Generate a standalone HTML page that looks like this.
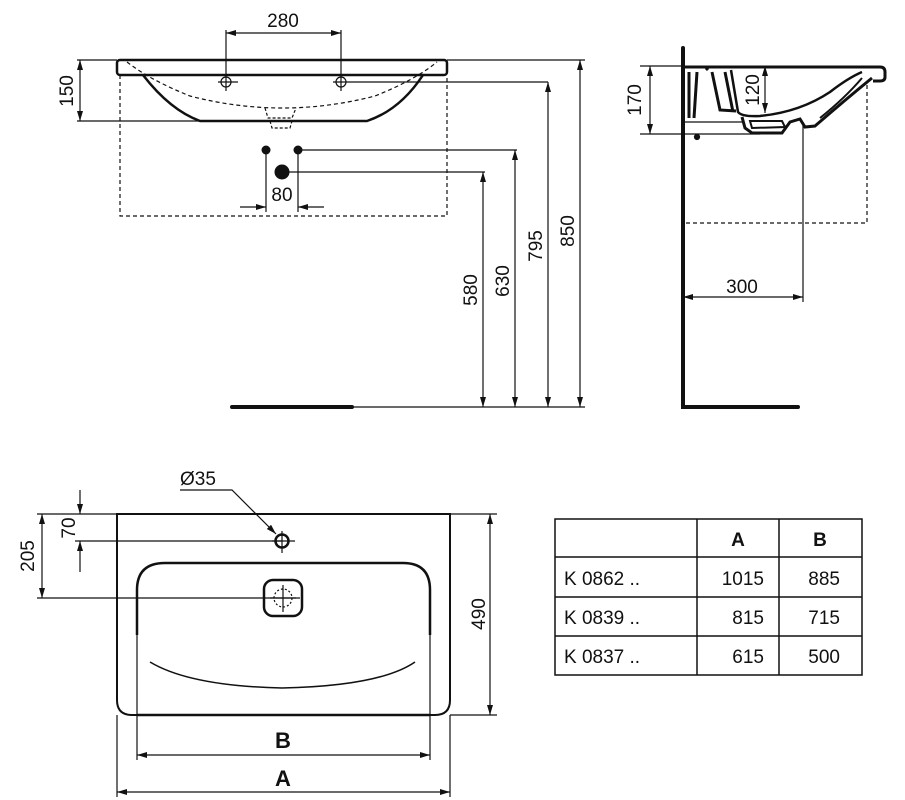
<!DOCTYPE html>
<html><head><style>body{margin:0;background:#fff}svg{display:block}text{font-family:"Liberation Sans",sans-serif;fill:#111}</style></head>
<body>
<svg width="905" height="800" viewBox="0 0 905 800" xmlns="http://www.w3.org/2000/svg">
<defs>
<marker id="a" viewBox="0 0 10 6" refX="10" refY="3" markerWidth="11" markerHeight="6" orient="auto-start-reverse" markerUnits="userSpaceOnUse"><path d="M0,0 L10,3 L0,6 z" fill="#111"/></marker>
</defs>
<g stroke="#111" fill="none" stroke-width="1.2">
<!-- FRONT VIEW -->
<rect x="117" y="60" width="330" height="15" rx="3" stroke-width="2.5"/>
<path d="M143,75 Q170,110 200,121 L367,121 Q400,110 423,75" stroke-width="2.5"/>
<path d="M127,62 Q150,80 190,96 Q282,120 375,96 Q415,80 437,62" stroke-dasharray="4,3"/>
<path d="M265,108 L268,118 L292,118 L296,108 M270,121 L272,128 L290,128 L292,121" stroke-dasharray="3,2"/>
<path d="M120,75 L120,216 L447,216 L447,75" stroke-dasharray="4,3"/>
<circle cx="226" cy="82" r="5"/><circle cx="341" cy="82" r="5"/>
<path d="M218,82 L238,82 M333,82 L353,82 M341,82 L548,82"/>
<path d="M226,30 L226,91 M341,30 L341,91"/>
<path d="M226,33 L341,33" marker-start="url(#a)" marker-end="url(#a)"/>
<path d="M77,60 L117,60 M77,121 L200,121 M447,60 L585,60"/>
<path d="M80,60 L80,121" marker-start="url(#a)" marker-end="url(#a)"/>
<path d="M266,150 L266,212 M298,150 L298,212 M298,150 L517,150 M282,172 L485,172"/>
<path d="M240,207 L266,207" marker-end="url(#a)"/>
<path d="M324,207 L298,207" marker-end="url(#a)"/>
<path d="M483,172 L483,407" marker-start="url(#a)" marker-end="url(#a)"/>
<path d="M515,150 L515,407" marker-start="url(#a)" marker-end="url(#a)"/>
<path d="M548,82 L548,407" marker-start="url(#a)" marker-end="url(#a)"/>
<path d="M580,60 L580,407" marker-start="url(#a)" marker-end="url(#a)"/>
<path d="M352,407 L585,407"/>
<path d="M232,407 L352,407" stroke-width="4" stroke-linecap="round"/>
<!-- SIDE VIEW -->
<path d="M683,48 L683,407 L798,407" stroke-width="4" stroke-linecap="round"/>
<path d="M640,66 L683,66 M640,134 L760,134"/>
<path d="M650,66 L650,134" marker-start="url(#a)" marker-end="url(#a)"/>
<path d="M683,67 L880,67 Q885,67 885,72 L885,77 Q885,81 880,81 L873,81" stroke-width="3"/>
<path d="M689,72 L689,118 M697,72 L694,118" stroke-width="3"/>
<path d="M706,68 L708,70 M712,72 L720,110 L736,111 M725,72 L733,112" stroke-width="3"/>
<path d="M731,70 L738,112 Q742,117 760,116 Q800,112 830,92 Q848,78 862,72" stroke-width="2.5"/>
<path d="M742,117 L745,128 L752,133 L782,133 L790,122 L800,119 L805,127 L815,126 Q845,100 872,78" stroke-width="3"/>
<path d="M750,121 L782,121 L785,127 L752,128 Z" stroke-width="2"/>
<path d="M820,118 Q845,98 862,78" stroke-width="2"/>
<path d="M683,122 L742,122"/>
<circle cx="697" cy="137" r="2.5" fill="#111"/>
<path d="M765,66 L765,113" marker-start="url(#a)" marker-end="url(#a)"/>
<path d="M867,85 L867,223 L685,223" stroke-dasharray="4,3"/>
<path d="M803,122 L803,302"/>
<path d="M683,297 L803,297" marker-start="url(#a)" marker-end="url(#a)"/>
<!-- PLAN VIEW -->
<path d="M117,514 L117,700 Q117,715 132,715 L435,715 Q450,715 450,700 L450,514 Z" stroke-width="2"/>
<path d="M137,635 L137,590 Q137,563 165,563 L403,563 Q430,563 430,590 L430,635" stroke-width="2.5"/>
<path d="M137,715 L430,715" stroke-width="2.5"/>
<path d="M137,635 L137,760 M430,635 L430,760 M117,715 L117,797 M450,715 L450,797"/>
<rect x="264" y="580" width="38" height="36" rx="9" stroke-width="2.5"/>
<circle cx="283" cy="598" r="9" stroke-dasharray="2,2"/>
<path d="M283,585 L283,612 M270,598 L296,598"/>
<path d="M150,662 Q190,686 282,688 Q380,686 415,662" stroke-width="1.5"/>
<circle cx="282" cy="541" r="6.5" stroke-width="2.5"/>
<path d="M282,531 L282,553 M272,541 L295,541"/>
<path d="M180,490 L232,490 L276,534" marker-end="url(#a)"/>
<path d="M37,514 L117,514 M75,541 L282,541 M37,598 L300,598 M450,514 L497,514 M450,715 L497,715"/>
<path d="M80,490 L80,514" marker-end="url(#a)"/>
<path d="M80,572 L80,541" marker-end="url(#a)"/>
<path d="M42,514 L42,598" marker-start="url(#a)" marker-end="url(#a)"/>
<path d="M490,514 L490,715" marker-start="url(#a)" marker-end="url(#a)"/>
<path d="M137,755 L430,755" marker-start="url(#a)" marker-end="url(#a)"/>
<path d="M117,792 L450,792" marker-start="url(#a)" marker-end="url(#a)"/>
<!-- TABLE -->
<rect x="555" y="519" width="307" height="156" stroke-width="1.5"/>
<path d="M555,557 L862,557 M555,597 L862,597 M555,636 L862,636 M697,519 L697,675 M779,519 L779,675" stroke-width="1.5"/>
</g>
<circle cx="266" cy="150" r="4.5" fill="#111"/><circle cx="298" cy="150" r="4.5" fill="#111"/><circle cx="282" cy="172" r="7.5" fill="#111"/>
<g font-size="19">
<text x="283" y="27" text-anchor="middle">280</text>
<text x="282" y="201" text-anchor="middle">80</text>
<text transform="translate(73,91) rotate(-90)" text-anchor="middle">150</text>
<text transform="translate(477,290) rotate(-90)" text-anchor="middle">580</text>
<text transform="translate(509,281) rotate(-90)" text-anchor="middle">630</text>
<text transform="translate(542,246) rotate(-90)" text-anchor="middle">795</text>
<text transform="translate(574,231) rotate(-90)" text-anchor="middle">850</text>
<text transform="translate(641,100) rotate(-90)" text-anchor="middle">170</text>
<text transform="translate(759,90) rotate(-90)" text-anchor="middle">120</text>
<text x="742" y="293" text-anchor="middle">300</text>
<text x="198" y="485" text-anchor="middle">Ø35</text>
<text transform="translate(75,528) rotate(-90)" text-anchor="middle">70</text>
<text transform="translate(34,556) rotate(-90)" text-anchor="middle">205</text>
<text transform="translate(485,614) rotate(-90)" text-anchor="middle">490</text>
<text x="283" y="748" text-anchor="middle" font-weight="bold" font-size="22">B</text>
<text x="283" y="786" text-anchor="middle" font-weight="bold" font-size="22">A</text>
<text x="738" y="546" text-anchor="middle" font-weight="bold">A</text>
<text x="820" y="546" text-anchor="middle" font-weight="bold">B</text>
<text x="564" y="585">K 0862 ..</text>
<text x="564" y="624">K 0839 ..</text>
<text x="564" y="663">K 0837 ..</text>
<text x="764" y="585" text-anchor="end">1015</text>
<text x="764" y="624" text-anchor="end">815</text>
<text x="764" y="663" text-anchor="end">615</text>
<text x="840" y="585" text-anchor="end">885</text>
<text x="840" y="624" text-anchor="end">715</text>
<text x="840" y="663" text-anchor="end">500</text>
</g>
</svg>
</body></html>
